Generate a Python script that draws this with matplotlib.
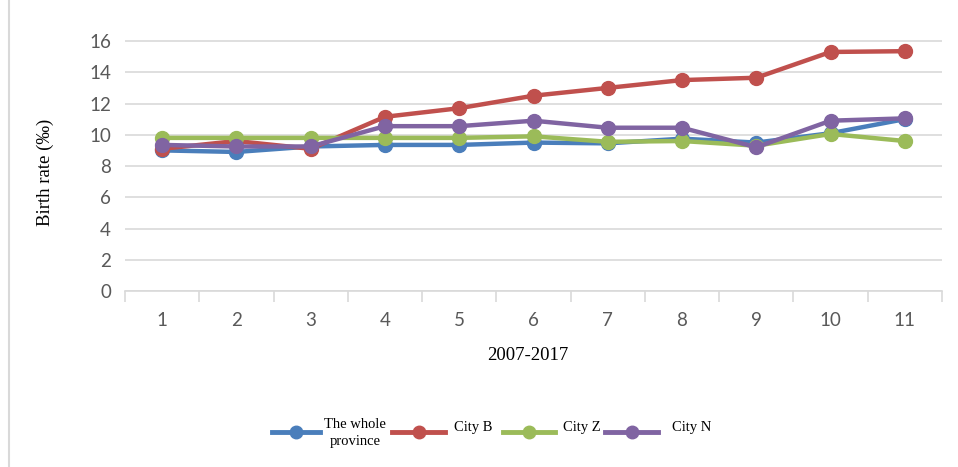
import matplotlib
matplotlib.use("Agg")
import matplotlib.pyplot as plt
from matplotlib.lines import Line2D

years = [1, 2, 3, 4, 5, 6, 7, 8, 9, 10, 11]
x_labels = ["1", "2", "3", "4", "5", "6", "7", "8", "9", "10", "11"]
province = [9.0, 8.9, 9.25, 9.35, 9.35, 9.5, 9.45, 9.75, 9.5, 10.1, 11.0]
city_b = [9.1, 9.6, 9.1, 11.15, 11.7, 12.5, 13.0, 13.5, 13.65, 15.3, 15.35]
city_z = [9.8, 9.8, 9.8, 9.8, 9.8, 9.9, 9.55, 9.6, 9.3, 10.05, 9.6]
city_n = [9.35, 9.25, 9.25, 10.55, 10.55, 10.9, 10.45, 10.45, 9.2, 10.9, 11.05]
series_names = ["The whole\nprovince", "City B", "City Z", "City N"]
colors = ["#4A7EBB", "#C0504D", "#9BBB59", "#8064A2"]
y_ticks = [0, 2, 4, 6, 8, 10, 12, 14, 16]

W, H = 958, 467
fig = plt.figure(figsize=(W / 100, H / 100), dpi=100)
ax = fig.add_axes([125 / W, 1 - 291 / H, (942 - 125) / W, (291 - 25.4) / H])

grid_c = "#D9D9D9"
tick_c = "#595959"
sans = ["Lato", "DejaVu Sans"]
serif = ["Liberation Serif", "DejaVu Serif"]

for vals, c in zip([province, city_b, city_z, city_n], colors):
    ax.plot(years, vals, color=c, lw=3.2, marker="o", markersize=10,
            solid_capstyle="round", zorder=3)

ax.set_xlim(0.5, 11.5)
ax.set_ylim(0, 17)
ax.set_yticks(y_ticks)
ax.set_yticklabels([str(v) for v in y_ticks], fontsize=13.5, color=tick_c,
                   family=sans)
ax.tick_params(axis="y", length=0, pad=10)
ax.yaxis.grid(True, color=grid_c, lw=1.2)
ax.set_axisbelow(True)

ax.set_xticks([i + 0.5 for i in range(0, 12)])
ax.set_xticklabels([])
ax.tick_params(axis="x", which="major", length=8, color=grid_c, width=1.2)
ax.set_xticks(years, minor=True)
ax.set_xticklabels(x_labels, minor=True, fontsize=13.5, color=tick_c,
                   family=sans)
ax.tick_params(axis="x", which="minor", length=0, pad=15)

for s in ["top", "right", "left"]:
    ax.spines[s].set_visible(False)
ax.spines["bottom"].set_color(grid_c)
ax.spines["bottom"].set_linewidth(1.2)

fig.text(45 / W, 1 - 172 / H, "Birth rate (\u2030)", rotation=90,
         ha="center", va="center", fontsize=13.5, family=serif)
fig.text(528 / W, 1 - 355 / H, "2007-2017", ha="center", va="center",
         fontsize=13.5, family=serif)

# left frame line
fig.add_artist(Line2D([9 / W, 9 / W], [0, 1], color=grid_c, lw=1.5))

# manual legend
handles = [(272, 320), (392, 445), (503, 555), (605, 658)]
text_x = [355, 473, 582, 692]
ly = 1 - 432 / H
for (x0, x1), c, name, tx in zip(handles, colors, series_names, text_x):
    xm = (x0 + x1) / 2
    fig.add_artist(Line2D([x0 / W, xm / W, x1 / W], [ly, ly, ly], color=c,
                          lw=3.5, marker="o", markersize=9, markevery=[1]))
    if "\n" in name:
        fig.text(tx / W, 1 - 418 / H, name, ha="center", va="top",
                 fontsize=10.5, family=serif, multialignment="center",
                 linespacing=1.4)
    else:
        fig.text(tx / W, 1 - 427 / H, name, ha="center", va="center",
                 fontsize=10.5, family=serif)

fig.savefig("out.png", dpi=100)
